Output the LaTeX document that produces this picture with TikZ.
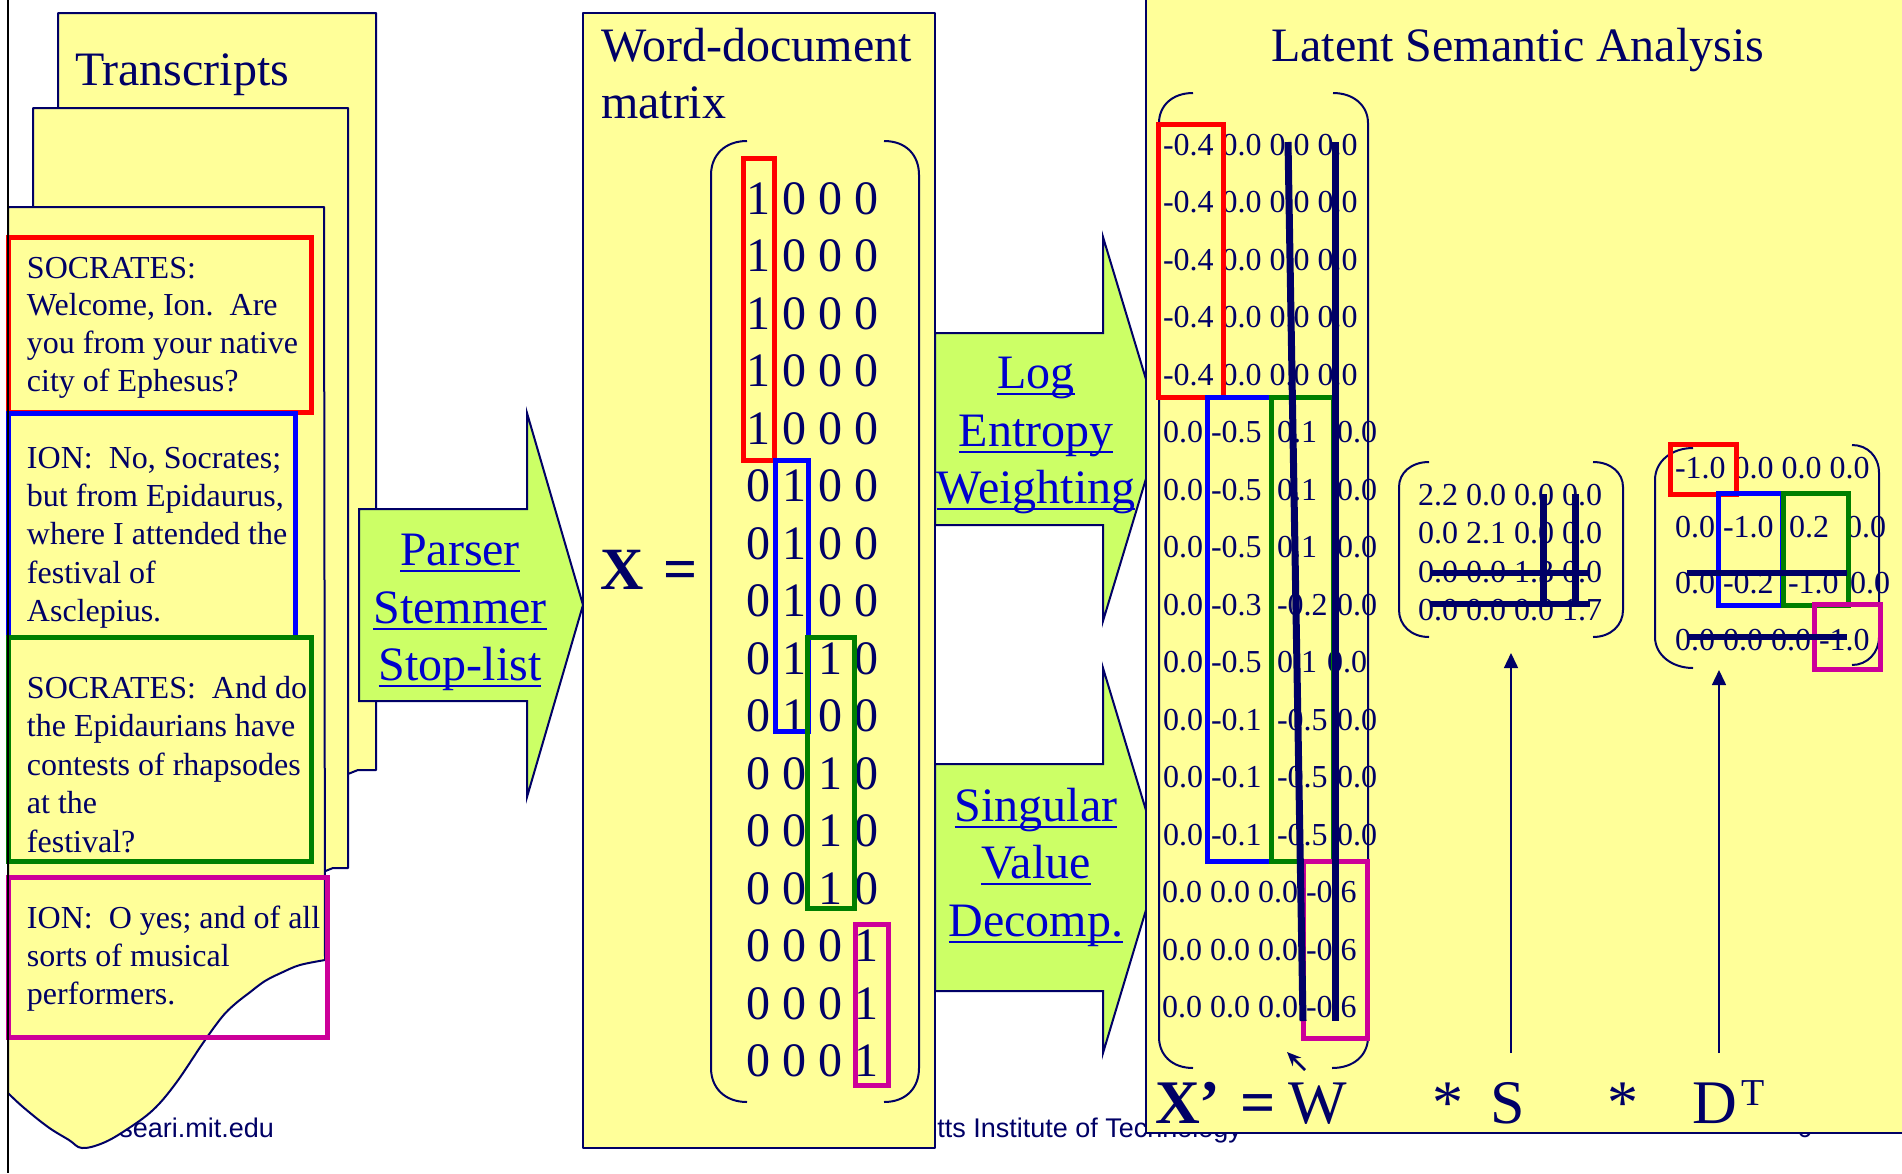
\documentclass[tikz,border=0pt]{standalone}
\usepackage{fontspec}
\setmainfont{Liberation Serif}
\newfontfamily\footfont{Liberation Sans}
\usetikzlibrary{arrows.meta}
\definecolor{pageyellow}{HTML}{FFFF99}
\definecolor{arrowgreen}{HTML}{CCFF66}
\definecolor{navy}{HTML}{000066}
\definecolor{linkblue}{HTML}{0000CC}
\definecolor{hlred}{HTML}{FF0000}
\definecolor{hlblue}{HTML}{0000FF}
\definecolor{hlgreen}{HTML}{007F00}
\definecolor{hlmag}{HTML}{CC0099}
\newcommand{\pxfont}[1]{\fontsize{#1}{#1}\selectfont}
\frenchspacing
\begin{document}
\begin{tikzpicture}[x=1pt,y=-1pt,
  pagefill/.style={fill=pageyellow,draw=navy,line width=2pt,line join=round},
  procarrow/.style={fill=arrowgreen,draw=navy,line width=2pt,line join=miter},
  hl/.style={line width=5pt},
  navybar/.style={draw=navy,line width=7pt},
  thinbar/.style={draw=navy,line width=6pt},
  paren/.style={draw=navy,line width=2pt},
  txt/.style={anchor=base west,inner sep=0pt,outer sep=0pt,text=navy},
  smalltxt/.style={txt,font=\pxfont{32}},
  bigtxt/.style={txt,font=\pxfont{48}},
  linktxt/.style={anchor=base,inner sep=0pt,outer sep=0pt,text=linkblue,font=\pxfont{48}},
  uline/.style={draw=linkblue,line width=2pt},
  foot/.style={anchor=base east,inner sep=0pt,outer sep=0pt,text=navy,font=\footfont\pxfont{27}},
  uparrow/.style={draw=navy,line width=1.5pt,-{Triangle[width=14pt,length=15pt]}},
]
\useasboundingbox (0,0) rectangle (1902,1173);
\fill[white] (0,0) rectangle (1902,1173);

% footer (behind everything)
\node[foot] (url) at (274,1137) {seari.mit.edu};
\node[foot] (mit) at (1242,1137) {Massachusetts Institute of Technology};
\node[foot] (pgno) at (1812,1137) {6};

% transcript pages
\draw[pagefill] (58,13) -- (376,13) -- (376,770) -- (358,770) -- (348,774) -- (58,774) -- cycle;
\draw[pagefill] (33,108) -- (348,108) -- (348,868) -- (333,868) -- (323,872) -- (33,872) -- cycle;
\draw[pagefill] (8,207) -- (324,207) -- (325,960) -- plot[smooth,tension=0.6] coordinates {(325,960) (300,965) (283,972) (265,981) (249,993) (235,1004) (222,1017) (203,1043) (176,1083) (153,1110) (126,1130) (103,1143) (82,1148) (69,1140) (48,1127) (23,1107) (8,1093)} -- cycle;
\node[bigtxt] (title1) at (75,85) {Transcripts};

\foreach \ln [count=\k from 0] in {{SOCRATES:},{Welcome, Ion.\ \ Are},{you from your native},{city of Ephesus?}}
  \node[smalltxt] (rt\k) at (27,{278+37.7*\k}) {\ln};
\foreach \ln [count=\k from 0] in {{ION:\ \ No, Socrates;},{but from Epidaurus,},{where I attended the},{festival of},{Asclepius.}}
  \node[smalltxt] (bt\k) at (27,{468+38.4*\k}) {\ln};
\foreach \ln [count=\k from 0] in {{SOCRATES:\ \ And do},{the Epidaurians have},{contests of rhapsodes},{at the},{festival?}}
  \node[smalltxt] (gt\k) at (27,{698+38.5*\k}) {\ln};
\foreach \ln [count=\k from 0] in {{ION:\ \ O yes; and of all},{sorts of musical},{performers.}}
  \node[smalltxt] (mt\k) at (27,{928+38*\k}) {\ln};

\draw[hl,hlred] (8,237) rectangle (311,412);
\draw[hl,hlblue] (8,413) rectangle (295,637);
\draw[hl,hlgreen] (8,637) rectangle (311,861);
\draw[hl,hlmag] (8,877) rectangle (327,1037);

% left slide edge
\draw[black,line width=2.5pt] (8,0) -- (8,1173);

% parser arrow
\draw[procarrow] (359,509) -- (527,509) -- (527,413) -- (583,605) -- (527,797) -- (527,701) -- (359,701) -- cycle;
\node[linktxt] (pa) at (460,565) {Parser};
\node[linktxt] (pb) at (460,623) {Stemmer};
\node[linktxt] (pc) at (460,680) {Stop-list};

% word-document matrix
\draw[pagefill] (583,13) rectangle (935,1148);
\node[bigtxt] (wd1) at (601,61) {Word-document};
\node[bigtxt] (wd2) at (601,118) {matrix};
\node[txt,font=\bfseries\pxfont{60}] (xsym) at (600,589) {X};
\node[txt,font=\bfseries\pxfont{60}] (xeq) at (663,589) {=};
\draw[paren] (747,141) .. controls (725,141) and (711,155) .. (711,175) -- (711,1068) .. controls (711,1088) and (725,1102) .. (747,1102);
\draw[paren] (884,141) .. controls (906,141) and (919,155) .. (919,175) -- (919,1068) .. controls (919,1088) and (906,1102) .. (884,1102);
\foreach \rowtxt [count=\k from 0] in {1 0 0 0,1 0 0 0,1 0 0 0,1 0 0 0,1 0 0 0,0 1 0 0,0 1 0 0,0 1 0 0,0 1 1 0,0 1 0 0,0 0 1 0,0 0 1 0,0 0 1 0,0 0 0 1,0 0 0 1,0 0 0 1}
  \node[bigtxt] (xr\k) at (746,{214+57.5*\k}) {\rowtxt};
\draw[hl,hlred] (743,158) rectangle (774,460);
\draw[hl,hlblue] (775,460) rectangle (808,731);
\draw[hl,hlgreen] (807,637) rectangle (854,908);
\draw[hl,hlmag] (855,924) rectangle (888,1085);

% weighting and SVD arrows
\draw[procarrow] (935,333) -- (1103,333) -- (1103,237) -- (1161,429) -- (1103,621) -- (1103,525) -- (935,525) -- cycle;
\node[linktxt] (la) at (1036,388) {Log};
\node[linktxt] (lb) at (1036,446) {Entropy};
\node[linktxt] (lc) at (1036,503) {Weighting};
\draw[procarrow] (935,764) -- (1103,764) -- (1103,668) -- (1161,860) -- (1103,1053) -- (1103,991) -- (935,991) -- cycle;
\node[linktxt] (sa) at (1036,821) {Singular};
\node[linktxt] (sb) at (1036,878) {Value};
\node[linktxt] (sc) at (1036,936) {Decomp.};
\foreach \n in {pa,pb,pc,la,lb,lc,sa,sb,sc}
  \draw[uline] ([yshift=-6pt]\n.base west) -- ([yshift=-6pt]\n.base east);

% LSA panel
\draw[pagefill] (1146,-10) rectangle (1920,1133);
\node[bigtxt] (lsa) at (1271,61) {Latent Semantic Analysis};

% W matrix
\draw[paren] (1193,93) .. controls (1172,93) and (1159,106) .. (1159,123) -- (1159,1037) .. controls (1159,1055) and (1172,1068) .. (1193,1068);
\draw[paren] (1333,93) .. controls (1354,93) and (1368,106) .. (1368,123) -- (1368,1037) .. controls (1368,1055) and (1354,1068) .. (1332,1068);
\foreach \k in {0,...,4}
  \node[smalltxt] (wr\k) at (1163,{155+57.5*\k}) {-0.4 0.0 0.0 0.0};
\foreach \wi/\ca/\cb/\cc/\cd/\dx in {5/0.0/-0.5/0.1/0.0/1337,6/0.0/-0.5/0.1/0.0/1337,7/0.0/-0.5/0.1/0.0/1337,8/0.0/-0.3/-0.2/0.0/1337,9/0.0/-0.5/0.1/0.0/1327,10/0.0/-0.1/-0.5/0.0/1337,11/0.0/-0.1/-0.5/0.0/1337,12/0.0/-0.1/-0.5/0.0/1337}{
  \node[smalltxt] (wa\wi) at (1163,{155+57.5*\wi}) {\ca};
  \node[smalltxt] (wb\wi) at (1211,{155+57.5*\wi}) {\cb};
  \node[smalltxt] (wc\wi) at (1277,{155+57.5*\wi}) {\cc};
  \node[smalltxt] (wd\wi) at (\dx,{155+57.5*\wi}) {\cd};
}
\foreach \k in {13,14,15}
  \node[smalltxt] (wr\k) at (1162,{155+57.5*\k}) {0.0 0.0 0.0 -0.6};
\draw[hl,hlred] (1158,124) rectangle (1223,397);
\draw[hl,hlblue] (1207,397) rectangle (1271,861);
\draw[hl,hlgreen] (1271,397) rectangle (1333,861);
\draw[hl,hlmag] (1303,861) rectangle (1367,1038);
\draw[navybar] (1288,142) -- (1303,1021);
\draw[navybar] (1335,142) -- (1335,1021);

% S matrix
\draw[paren] (1429,462) .. controls (1411,462) and (1399,473) .. (1399,487) -- (1399,610) .. controls (1399,625) and (1411,637) .. (1429,637);
\draw[paren] (1593,462) .. controls (1611,462) and (1623,473) .. (1623,487) -- (1623,610) .. controls (1623,625) and (1611,637) .. (1593,637);
\node[smalltxt] (s1) at (1418,505) {2.2 0.0 0.0 0.0};
\node[smalltxt] (s2) at (1418,543) {0.0 2.1 0.0 0.0};
\node[smalltxt] (s3) at (1418,582) {0.0 0.0 1.3 0.0};
\node[smalltxt] (s4) at (1418,620) {0.0 0.0 0.0 1.7};
\draw[thinbar] (1430,573) -- (1590,573);
\draw[thinbar] (1430,604) -- (1590,604);
\draw[navybar] (1543,494) -- (1543,604);
\draw[navybar] (1575,494) -- (1575,604);

% D^T matrix
\draw[paren] (1693,448) .. controls (1672,448) and (1655,461) .. (1655,480) -- (1655,637) .. controls (1655,655) and (1672,668) .. (1693,668);
\draw[paren] (1852,445) .. controls (1867,445) and (1879,456) .. (1879,473) -- (1879,637) .. controls (1879,653) and (1867,665) .. (1852,665);
\node[smalltxt] (d1) at (1675,478) {-1.0 0.0 0.0 0.0};
\node[smalltxt] (d2a) at (1675,537) {0.0};
\node[smalltxt] (d2b) at (1723,537) {-1.0};
\node[smalltxt] (d2c) at (1789,537) {0.2};
\node[smalltxt] (d2d) at (1846,537) {0.0};
\node[smalltxt] (d3a) at (1675,593) {0.0};
\node[smalltxt] (d3b) at (1723,593) {-0.2};
\node[smalltxt] (d3c) at (1788,593) {-1.0};
\node[smalltxt] (d3d) at (1850,593) {0.0};
\node[smalltxt] (d4) at (1675,650) {0.0 0.0 0.0 -1.0};
\draw[hl,hlred] (1670,444) rectangle (1736,494);
\draw[hl,hlblue] (1718,493) rectangle (1782,605);
\draw[hl,hlgreen] (1783,493) rectangle (1848,605);
\draw[hl,hlmag] (1814,604) rectangle (1880,669);
\draw[thinbar] (1687,573) -- (1847,573);
\draw[thinbar] (1687,637) -- (1847,637);

% pointer arrows
\coordinate (sfoot) at (1511,1053);
\coordinate (stip) at (1511,653);
\coordinate (dfoot) at (1719,1053);
\coordinate (dtip) at (1719,670);
\draw[uparrow] (sfoot) -- (stip);
\draw[uparrow] (dfoot) -- (dtip);
\coordinate (cur0) at (1305,1070);
\coordinate (cur1) at (1287,1052);
\draw[navy,line width=2.5pt,-{Stealth[length=14pt,width=12pt]}] (cur0) -- (cur1);

% equation
\node[txt,font=\bfseries\pxfont{62}] (xp) at (1155,1123) {X’};
\node[txt,font=\bfseries\pxfont{62}] (eqb) at (1240,1123) {=};
\node[txt,font=\pxfont{62}] (wsym) at (1288,1123) {W};
\node[txt,font=\pxfont{62}] (st1) at (1432,1123) {*};
\node[txt,font=\pxfont{62}] (ssym) at (1490,1123) {S};
\node[txt,font=\pxfont{62}] (st2) at (1607,1123) {*};
\node[txt,font=\pxfont{62}] (dsym) at (1692,1123) {D};
\node[txt,font=\pxfont{38}] (tsym) at (1741,1105) {T};
\end{tikzpicture}
\end{document}
